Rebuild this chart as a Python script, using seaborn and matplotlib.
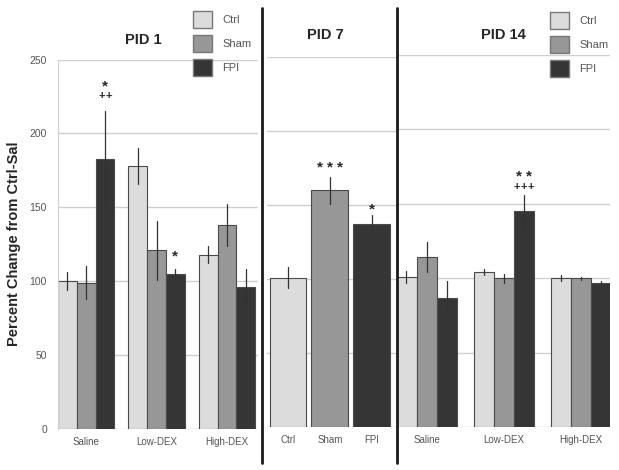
import pandas as pd
import matplotlib
matplotlib.use("Agg")
import matplotlib.pyplot as plt
from matplotlib.patches import Patch
import seaborn as sns

# --- Data ---
groups = ["Saline", "Low-DEX", "High-DEX"]
conditions = ["Ctrl", "Sham", "FPI"]

pid1_ctrl = [100, 178, 118]
pid1_sham = [99, 121, 138]
pid1_fpi = [183, 105, 96]
pid1_ctrl_err = [6, 12, 6]
pid1_sham_err = [11, 20, 14]
pid1_fpi_err = [32, 3, 12]

pid7_mean = [101, 160, 137]
pid7_err = [7, 9, 6]

pid14_ctrl = [101, 104, 100]
pid14_sham = [114, 100, 100]
pid14_fpi = [87, 145, 97]
pid14_ctrl_err = [4, 2, 2]
pid14_sham_err = [10, 3, 1]
pid14_fpi_err = [11, 11, 1]

# significance marks: (condition, group, label, level on the y scale)
pid1_marks = [("FPI", "Saline", "++", 225.5), ("FPI", "Saline", "*", 234),
              ("FPI", "Low-DEX", "*", 119)]
pid7_marks = [("Sham", None, "***", 177.5), ("FPI", None, "*", 149.5)]
pid14_marks = [("FPI", "Low-DEX", "+++", 162), ("FPI", "Low-DEX", "**", 171)]

colors = {"Ctrl": "#dcdcdc", "Sham": "#979797", "FPI": "#353535"}
edge = "#4a4a4a"
grid_c = "#cfcfcf"
text_c = "#555555"

sns.set_style("white")
plt.rcParams['font.family'] = ['Liberation Sans', 'DejaVu Sans']


def grouped_df(ctrl, sham, fpi, ctrl_e, sham_e, fpi_e):
    rows = []
    for cond, vals, errs in [("Ctrl", ctrl, ctrl_e), ("Sham", sham, sham_e), ("FPI", fpi, fpi_e)]:
        for g, v, e in zip(groups, vals, errs):
            rows.append({"group": g, "cond": cond, "value": v, "err": e})
    return pd.DataFrame(rows)


df1 = grouped_df(pid1_ctrl, pid1_sham, pid1_fpi, pid1_ctrl_err, pid1_sham_err, pid1_fpi_err)
df7 = pd.DataFrame({"cond": conditions, "value": pid7_mean, "err": pid7_err})
df14 = grouped_df(pid14_ctrl, pid14_sham, pid14_fpi, pid14_ctrl_err, pid14_sham_err, pid14_fpi_err)

W, H = 619, 470
fig = plt.figure(figsize=(W / 100, H / 100), dpi=100)


def px_axes(x0, x1, y_top, y_zero):
    return fig.add_axes([x0 / W, (H - y_zero) / H, (x1 - x0) / W, (y_zero - y_top) / H])


def style_axes(ax, xlim):
    ax.set_ylim(0, 250)
    ax.set_xlim(*xlim)
    ax.set_yticks(range(0, 251, 50))
    ax.yaxis.grid(True, color=grid_c, lw=1)
    ax.set_axisbelow(True)
    for s in ax.spines.values():
        s.set_visible(False)
    ax.set_xlabel("")
    ax.set_ylabel("")
    ax.tick_params(axis='x', length=0, labelsize=7, labelcolor=text_c, pad=6)
    ax.tick_params(axis='y', length=0, labelsize=7.5, labelcolor=text_c, pad=8)
    if ax.get_legend() is not None:
        ax.get_legend().remove()


def bar_for(ax, cond, group):
    ci = conditions.index(cond)
    if group is None:
        # single-hue barplot: each bar is its own container
        return ax.containers[ci][0]
    return ax.containers[ci][groups.index(group)]


def row_for(df, cond, group):
    if group is None:
        return df[df["cond"] == cond].iloc[0]
    return df[(df["cond"] == cond) & (df["group"] == group)].iloc[0]


def add_errbars(ax, df, grouped=True):
    for cond in conditions:
        for g in (groups if grouped else [None]):
            bar = bar_for(ax, cond, g)
            row = row_for(df, cond, g)
            cx = bar.get_x() + bar.get_width() / 2
            ax.plot([cx, cx], [row.value - row.err, row.value + row.err],
                    color="#333333", lw=0.9, zorder=5)


def add_marks(ax, marks):
    # the symbols are widely spaced in the original, so set each one on its own
    for cond, g, label, level in marks:
        bar = bar_for(ax, cond, g)
        cx = bar.get_x() + bar.get_width() / 2
        star = "*" in label
        fs = 11 if star else 8
        step = 7 if star else 5      # points between symbols
        lift = -0.5 * fs if star else -0.33 * fs
        n = len(label)
        for i, ch in enumerate(label):
            ax.annotate(ch, (cx, level), xytext=((i - (n - 1) / 2) * step, lift),
                        textcoords='offset points', ha='center', va='baseline',
                        fontsize=fs, fontweight='bold', color="#2a2a2a")


# --- PID 1 ---
ax1 = px_axes(58, 258, 59.5, 429)
sns.barplot(data=df1, x="group", y="value", hue="cond", hue_order=conditions,
            palette=colors, errorbar=None, width=0.8, edgecolor=edge, linewidth=0.8, ax=ax1)
style_axes(ax1, (-0.4, 2.44))
ax1.spines['left'].set_visible(True)
ax1.spines['left'].set_color(grid_c)
add_errbars(ax1, df1)
add_marks(ax1, pid1_marks)
ax1.set_ylabel("Percent Change from Ctrl-Sal", fontsize=10.5, fontweight='bold', labelpad=6)

# --- PID 7 ---
ax7 = px_axes(267, 397, 57, 427)
sns.barplot(data=df7, x="cond", y="value", hue="cond", palette=colors, errorbar=None,
            width=0.88, edgecolor=edge, linewidth=0.8, legend=False, ax=ax7)
style_axes(ax7, (-0.5, 2.6))
ax7.set_yticklabels([])
add_errbars(ax7, df7, grouped=False)
add_marks(ax7, pid7_marks)

# --- PID 14 ---
ax14 = px_axes(397, 610, 55, 427)
sns.barplot(data=df14, x="group", y="value", hue="cond", hue_order=conditions,
            palette=colors, errorbar=None, width=0.78, edgecolor=edge, linewidth=0.8, ax=ax14)
style_axes(ax14, (-0.383, 2.38))
ax14.set_yticklabels([])
add_errbars(ax14, df14)
add_marks(ax14, pid14_marks)

# --- Titles ---
fig.text(143 / W, 1 - 40 / H, "PID 1", ha='center', va='center', fontsize=10.5, fontweight='bold')
fig.text(325 / W, 1 - 35 / H, "PID 7", ha='center', va='center', fontsize=10.5, fontweight='bold')
fig.text(503 / W, 1 - 35 / H, "PID 14", ha='center', va='center', fontsize=10.5, fontweight='bold')

# --- Legends ---
handles = [Patch(facecolor=colors[c], edgecolor="#777777", lw=1, label=c) for c in conditions]
for x0, y0 in [(193, 11), (550, 12)]:
    lg = fig.legend(handles=handles, loc='upper left', bbox_to_anchor=(x0 / W, 1 - y0 / H),
                    frameon=False, fontsize=8, handlelength=1.75, handleheight=1.98,
                    labelspacing=0.63, handletextpad=0.9, borderpad=0, borderaxespad=0)
    for t in lg.get_texts():
        t.set_color(text_c)

# --- Panel separators ---
for xs in [262, 397]:
    fig.add_artist(plt.Line2D([xs / W, xs / W], [1 - 8 / H, 1 - 463 / H],
                              color="#1a1a1a", lw=2, transform=fig.transFigure))

fig.savefig("out.png", dpi=100)
